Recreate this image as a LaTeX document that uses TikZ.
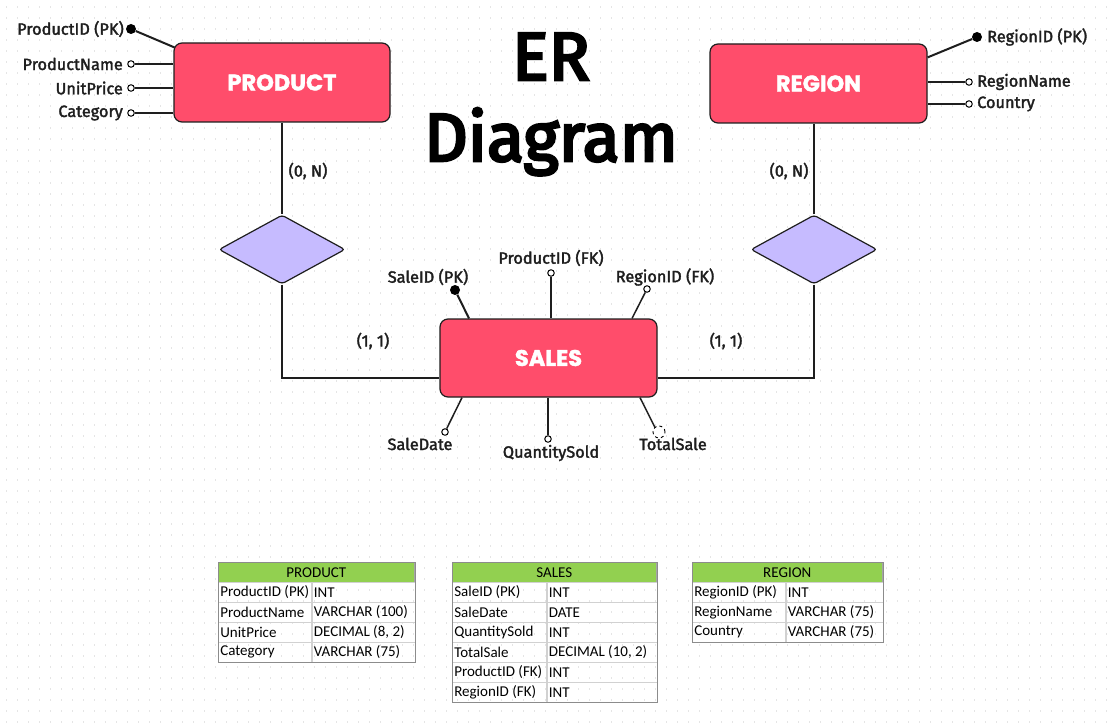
\documentclass[tikz,border=0pt]{standalone}
\usepackage{fontspec}
\setmainfont{Fira Sans}[AutoFakeBold=2]
\newfontfamily\titlefont{Fira Sans}[BoldFeatures={FakeBold=2.4}, AutoFakeBold=4]
\newfontfamily\entfont{Poppins}[BoldFeatures={FakeBold=1.8}]
\newfontfamily\tabfont{Carlito}
\usetikzlibrary{shapes.geometric}
\definecolor{entpink}{HTML}{FF4D6B}
\definecolor{lav}{HTML}{C6BBFF}
\definecolor{hgreen}{HTML}{92D050}
\definecolor{ink}{HTML}{1E1E1E}
\tikzset{
  dotgrid/.style={draw=black!10, line width=1.4pt, dash pattern=on 1.4pt off 9.6pt},
  entity/.style={draw=ink, line width=1.2pt, fill=entpink, rounded corners=8pt,
    minimum width=216pt, minimum height=79pt, inner sep=0,
    font=\entfont\bfseries\fontsize{22.5}{26}\selectfont, text=white},
  rel/.style={diamond, draw=ink, line width=1.2pt, fill=lav, aspect=1.83,
    minimum width=126pt, minimum height=69pt, inner sep=0, rounded corners=3pt},
  attr/.style={circle, draw=black, fill=white, line width=1pt, minimum size=6.5pt, inner sep=0},
  pk/.style={circle, fill=black, minimum size=10pt, inner sep=0},
  dattr/.style={circle, draw=black, dashed, fill=white, line width=0.9pt, minimum size=12pt, inner sep=0},
  lbl/.style={font=\bfseries\fontsize{16.3}{19}\selectfont, inner sep=0, text=ink},
  conn/.style={line width=1.5pt, draw=ink},
  pkconn/.style={line width=2pt, draw=ink},
  thead/.style={fill=hgreen, draw=black!35, line width=0.6pt, minimum height=20pt, inner sep=0,
    font=\tabfont\fontsize{15}{17}\selectfont, anchor=north west},
  tcell/.style={draw=black!18, line width=0.6pt, minimum height=20pt, inner xsep=2pt, inner ysep=0,
    font=\tabfont\fontsize{15}{17}\selectfont, anchor=north west},
  tborder/.style={draw=black!45, line width=0.9pt}
}
\newcommand\tabhead[5]{\node[thead, minimum width=#4pt] (#1) at (#2,#3) {#5};}
\newcommand\tabrow[7]{%
  \node[tcell] (#1a) at (#2,#3) {\makebox[#4pt][l]{#6}};
  \node[tcell] (#1b) at (#1a.north east) {\makebox[#5pt][l]{#7}};}
\begin{document}
\begin{tikzpicture}[x=1pt,y=-1pt]
\fill[white] (0,0) rectangle (1115,722);
\useasboundingbox (0,0) rectangle (1115,722);
\foreach \yy in {7,18,...,722} \draw[dotgrid] (6,\yy) -- (1115,\yy);

% title
\node[font=\titlefont\bfseries\fontsize{68}{74}\selectfont, anchor=base, inner sep=0] (t1) at (551,80) {ER};
\node[font=\titlefont\bfseries\fontsize{68}{74}\selectfont, anchor=base, inner sep=0] (t2) at (551,161) {Diagram};

% entities
\node[entity] (product) at (282,82.5) {PRODUCT};
\node[entity, minimum width=217pt] (region) at (818.5,83.5) {REGION};
\node[entity, minimum width=217pt, minimum height=78pt] (sales) at (548.5,358) {SALES};

% relationships
\node[rel] (dl) at (282,249.5) {};
\node[rel] (dr) at (814,249.5) {};

\draw[conn] (product.south) -- (dl.north);
\draw[conn] (dr.north) -- (dr.north |- region.south);
\draw[conn] (dl.south) |- ([yshift=-20pt]sales.west);
\draw[conn] (dr.south) |- ([yshift=-20pt]sales.east);

\node[lbl] (c1) at (308,171) {(0, N)};
\node[lbl] (c2) at (789,171) {(0, N)};
\node[lbl] (c3) at (373,341) {(1, 1)};
\node[lbl] (c4) at (726,341) {(1, 1)};

% product attributes
\node[pk] (pa0) at (131,29) {};
\draw[pkconn] (pa0) -- ([xshift=1pt,yshift=-5pt]product.north west);
\node[lbl, anchor=east] (pt0) at (124,29) {ProductID (PK)};
\node[attr] (pa1) at (131,64) {};
\node[attr] (pa2) at (131,88) {};
\node[attr] (pa3) at (131,113) {};
\foreach \n in {pa1,pa2,pa3} \draw[conn] (\n) -- (\n -| product.west);
\node[lbl, anchor=east] (pt1) at (123,64) {ProductName};
\node[lbl, anchor=east] (pt2) at (123,88) {UnitPrice};
\node[lbl, anchor=east] (pt3) at (123,113) {Category};

% region attributes
\node[pk] (ra0) at (977,37) {};
\draw[pkconn] (ra0) -- ([yshift=-14pt]region.north east);
\node[lbl, anchor=west] (rt0) at (987,37) {RegionID (PK)};
\node[attr] (ra1) at (969,82) {};
\node[attr] (ra2) at (969,104) {};
\foreach \n in {ra1,ra2} \draw[conn] (\n) -- (\n -| region.east);
\node[lbl, anchor=west] (rt1) at (977,82) {RegionName};
\node[lbl, anchor=west] (rt2) at (977,104) {Country};

% sales attributes
\node[pk] (sa0) at (455,290) {};
\draw[pkconn] (sa0) -- ([xshift=-79.5pt]sales.north);
\node[lbl] (st0) at (428,277) {SaleID (PK)};
\node[attr] (sa1) at (551,273) {};
\draw[conn] (sa1) -- (sa1 |- sales.north);
\node[lbl] (st1) at (551,258) {ProductID (FK)};
\node[attr] (sa2) at (647,289) {};
\draw[conn] (sa2) -- ([xshift=83.5pt]sales.north);
\node[lbl] (st2) at (665,277) {RegionID (FK)};
\node[attr] (sa3) at (445,432) {};
\draw[conn] (sa3) -- ([xshift=-86.5pt]sales.south);
\node[lbl] (st3) at (420,444) {SaleDate};
\node[attr] (sa4) at (548,439) {};
\draw[conn] (sa4) -- (sa4 |- sales.south);
\node[lbl] (st4) at (551,453) {QuantitySold};
\draw[conn] (659,432) ++(-4,-4.5) coordinate (tsend) -- ([xshift=91.5pt]sales.south);
\node[dattr] (sa5) at (659,432) {};
\node[lbl] (st5) at (673,444) {TotalSale};

% PRODUCT table
\tabhead{pth}{218}{562}{196}{PRODUCT}
\tabrow{pr1}{218}{582}{89}{99}{ProductID (PK)}{INT}
\tabrow{pr2}{218}{602}{89}{99}{ProductName}{VARCHAR (100)}
\tabrow{pr3}{218}{622}{89}{99}{UnitPrice}{DECIMAL (8, 2)}
\tabrow{pr4}{218}{642}{89}{99}{Category}{VARCHAR (75)}
\draw[tborder] (pth.north west) rectangle (pr4b.south east);

% SALES table
\tabhead{sth}{452}{562}{204}{SALES}
\tabrow{sr1}{452}{582}{90}{106}{SaleID (PK)}{INT}
\tabrow{sr2}{452}{602}{90}{106}{SaleDate}{DATE}
\tabrow{sr3}{452}{622}{90}{106}{QuantitySold}{INT}
\tabrow{sr4}{452}{642}{90}{106}{TotalSale}{DECIMAL (10, 2)}
\tabrow{sr5}{452}{662}{90}{106}{ProductID (FK)}{INT}
\tabrow{sr6}{452}{682}{90}{106}{RegionID (FK)}{INT}
\draw[tborder] (sth.north west) rectangle (sr6b.south east);

% REGION table
\tabhead{rth}{692}{562}{190}{REGION}
\tabrow{rr1}{692}{582}{89}{93}{RegionID (PK)}{INT}
\tabrow{rr2}{692}{602}{89}{93}{RegionName}{VARCHAR (75)}
\tabrow{rr3}{692}{622}{89}{93}{Country}{VARCHAR (75)}
\draw[tborder] (rth.north west) rectangle (rr3b.south east);
\end{tikzpicture}
\end{document}
